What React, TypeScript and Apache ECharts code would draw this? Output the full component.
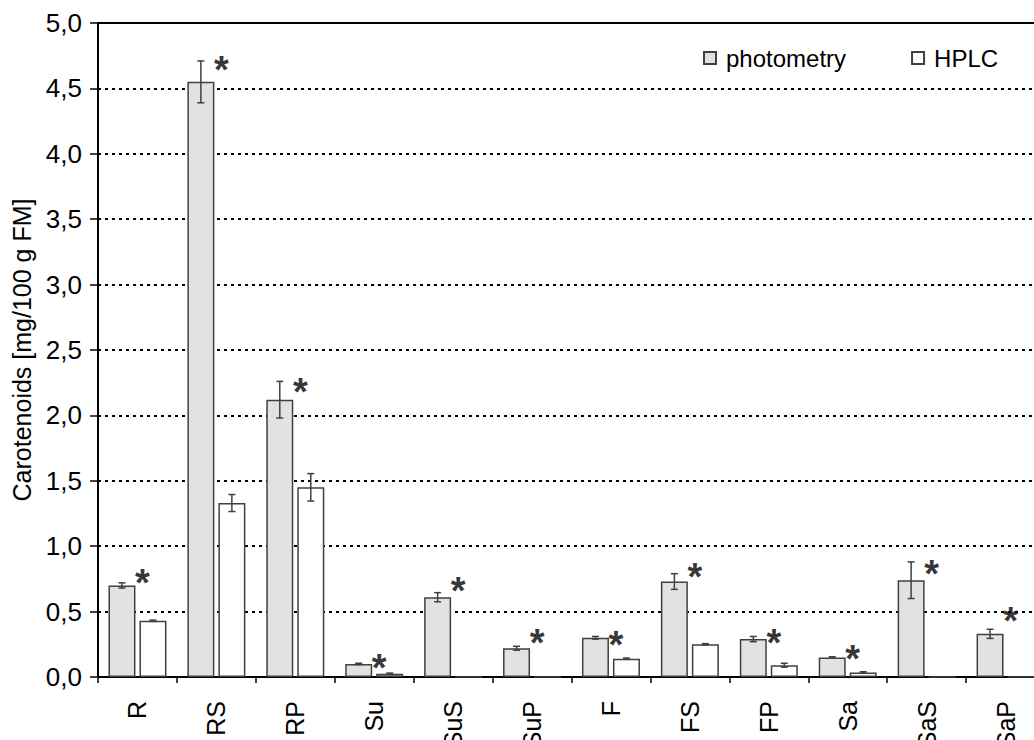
import React, { useEffect, useRef } from "react";
import * as echarts from "echarts";

const categories = ["R", "RS", "RP", "Su", "SuS", "SuP", "F", "FS", "FP", "Sa", "SaS", "SaP"];
const photometry = [0.70, 4.55, 2.12, 0.10, 0.61, 0.22, 0.30, 0.73, 0.29, 0.15, 0.74, 0.33];
const photometryErr = [0.02, 0.16, 0.14, 0.005, 0.035, 0.015, 0.01, 0.06, 0.02, 0.005, 0.14, 0.035];
const hplc = [0.43, 1.33, 1.45, 0.025, 0, 0, 0.14, 0.25, 0.09, 0.035, 0, 0];
const hplcErr = [0.005, 0.065, 0.105, 0.005, 0, 0, 0.005, 0.005, 0.015, 0.005, 0, 0];
const significanceY = [0.785, 4.71, 2.25, 0.137, 0.73, 0.33, 0.31, 0.83, 0.33, 0.21, 0.86, 0.50];

const FONT = "Liberation Sans, Arial, sans-serif";
const BAR_W = 27;
const BAR_GAP = 4;

function errorSeries(values: number[], errs: number[], shift: number, name: string) {
  return {
    type: "custom",
    name,
    z: 5,
    silent: true,
    data: values.map((v, i) => [i, v - errs[i], v + errs[i], v]),
    encode: { x: 0, y: [1, 2] },
    renderItem: (params: any, api: any) => {
      const idx = api.value(0);
      const lo = api.value(1);
      const hi = api.value(2);
      const val = api.value(3);
      if (!(val > 0)) return null;
      const pHi = api.coord([idx, hi]);
      const pLo = api.coord([idx, lo]);
      const x = pHi[0] + shift;
      const cap = 3.5;
      const st = { stroke: "#404040", lineWidth: 1.5 };
      return {
        type: "group",
        children: [
          { type: "line", shape: { x1: x, y1: pHi[1], x2: x, y2: pLo[1] }, style: st },
          { type: "line", shape: { x1: x - cap, y1: pHi[1], x2: x + cap, y2: pHi[1] }, style: st },
          { type: "line", shape: { x1: x - cap, y1: pLo[1], x2: x + cap, y2: pLo[1] }, style: st },
        ],
      };
    },
  };
}

export default function App() {
  const ref = useRef<HTMLDivElement>(null);
  useEffect(() => {
    document.body.style.margin = "0";
    const chart = echarts.init(ref.current!, null, { renderer: "svg" });
    const shift = (BAR_W + BAR_GAP) / 2;
    chart.setOption({
      animation: false,
      textStyle: { fontFamily: FONT },
      legend: {
        data: ["photometry", "HPLC"],
        left: 703,
        top: 46,
        padding: 0,
        icon: "rect",
        itemWidth: 12,
        itemHeight: 12,
        itemGap: 65,
        textStyle: { fontSize: 24, color: "#000", fontFamily: FONT, padding: [0, 0, 0, 5] },
      },
      grid: { left: 98, right: -11, top: 23, bottom: 63, containLabel: false, outerBoundsMode: "none" },
      xAxis: [
        {
          type: "category",
          data: categories,
          axisLine: { lineStyle: { color: "#000", width: 2 } },
          axisTick: { show: true, length: 6, lineStyle: { color: "#000", width: 1.5 } },
          axisLabel: { rotate: 90, fontSize: 25, color: "#000", margin: 24, interval: 0, fontFamily: FONT },
        },
        {
          type: "category",
          data: categories,
          position: "top",
          axisLine: { lineStyle: { color: "#000", width: 2 } },
          axisTick: { show: false },
          axisLabel: { show: false },
        },
      ],
      yAxis: {
        type: "value",
        min: 0,
        max: 5,
        interval: 0.5,
        name: "Carotenoids [mg/100 g FM]",
        nameLocation: "middle",
        nameGap: 64,
        nameTextStyle: { fontSize: 25, color: "#000", fontFamily: FONT },
        axisLine: { show: true, lineStyle: { color: "#000", width: 2 } },
        axisTick: { show: true, length: 8, lineStyle: { color: "#000", width: 1.5 } },
        axisLabel: {
          fontSize: 26,
          color: "#000",
          margin: 16,
          fontFamily: FONT,
          formatter: (v: number) => v.toFixed(1).replace(".", ","),
        },
        splitLine: { show: true, lineStyle: { color: "#000", width: 2, type: [3, 4] } },
      },
      series: [
        {
          type: "bar",
          name: "photometry",
          data: photometry,
          barWidth: BAR_W,
          barGap: `${(BAR_GAP / BAR_W) * 100}%`,
          itemStyle: { color: "#e2e2e2", borderColor: "#404040", borderWidth: 1.5 },
          z: 3,
        },
        {
          type: "bar",
          name: "HPLC",
          data: hplc,
          barWidth: BAR_W,
          itemStyle: { color: "#ffffff", borderColor: "#404040", borderWidth: 1.5 },
          z: 3,
        },
        errorSeries(photometry, photometryErr, -shift, "photometryErr"),
        errorSeries(hplc, hplcErr, shift, "hplcErr"),
        {
          type: "scatter",
          name: "significance",
          data: significanceY,
          symbolSize: 0,
          silent: true,
          z: 6,
          label: {
            show: true,
            position: "inside",
            formatter: "*",
            fontSize: 38,
            fontWeight: "bold",
            color: "#000",
            fontFamily: FONT,
            offset: [5, 9],
          },
        },
      ],
    });
    return () => chart.dispose();
  }, []);
  return <div ref={ref} style={{ width: 1034, height: 740 }} />;
}
